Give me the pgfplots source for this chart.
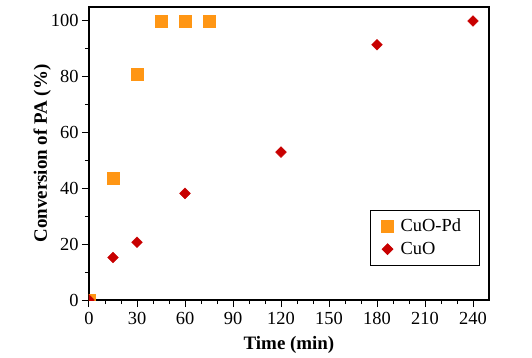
\documentclass[border=0pt]{standalone}
\usepackage{pgfplots}
\pgfplotsset{compat=1.18}
\usepackage{fontspec}
\setmainfont{Liberation Serif}
\definecolor{cuopd}{RGB}{255,150,20}
\definecolor{cuo}{RGB}{200,0,0}
\begin{document}
\begin{tikzpicture}
\begin{axis}[
  at={(0,0)}, anchor=south west,
  scale only axis, width=400bp, height=293bp,
  xmin=0, xmax=250, ymin=0, ymax=105,
  xtick={0,30,...,240}, ytick={0,20,...,100},
  minor x tick num=2, minor y tick num=1,
  tick align=outside, tickpos=left,
  major tick length=7bp, minor tick length=4bp,
  axis line style={line width=1.5bp},
  every tick/.style={black, line width=1bp},
  /pgf/number format/assume math mode=true,
  tick label style={font=\fontsize{18.5}{20}\selectfont},
  xticklabel style={yshift=-2bp},
  label style={font=\fontsize{19}{21}\selectfont\bfseries},
  xlabel={Time (min)}, ylabel={Conversion of PA (\%)},
  xlabel style={yshift=-5bp}, ylabel style={yshift=-7bp},
  clip=true, clip marker paths=true,
  legend style={at={(0.703,0.118)}, anchor=south west, draw=black, line width=0.8bp,
    font=\fontsize{18.5}{22}\selectfont, inner xsep=11bp, inner ysep=7bp, row sep=5bp,
    nodes={inner xsep=7bp}},
  legend cell align=left,
]
\addplot[only marks, mark=square*, mark size=6bp, color=cuopd, mark options={fill=cuopd, draw=cuopd}]
  coordinates {(0,0) (15,43.5) (30,81) (45,100) (60,100) (75,100)};
\addlegendentry{CuO-Pd}
\addplot[only marks, mark=square*, mark size=3.8bp, color=cuo, mark options={fill=cuo, draw=cuo, rotate=45}]
  coordinates {(0,0) (15,15.2) (30,20.7) (60,38.2) (120,53) (180,91.5) (240,100)};
\addlegendentry{CuO}
\end{axis}
\useasboundingbox (-89bp,-58bp) rectangle (443bp,300bp);
\end{tikzpicture}
\end{document}
